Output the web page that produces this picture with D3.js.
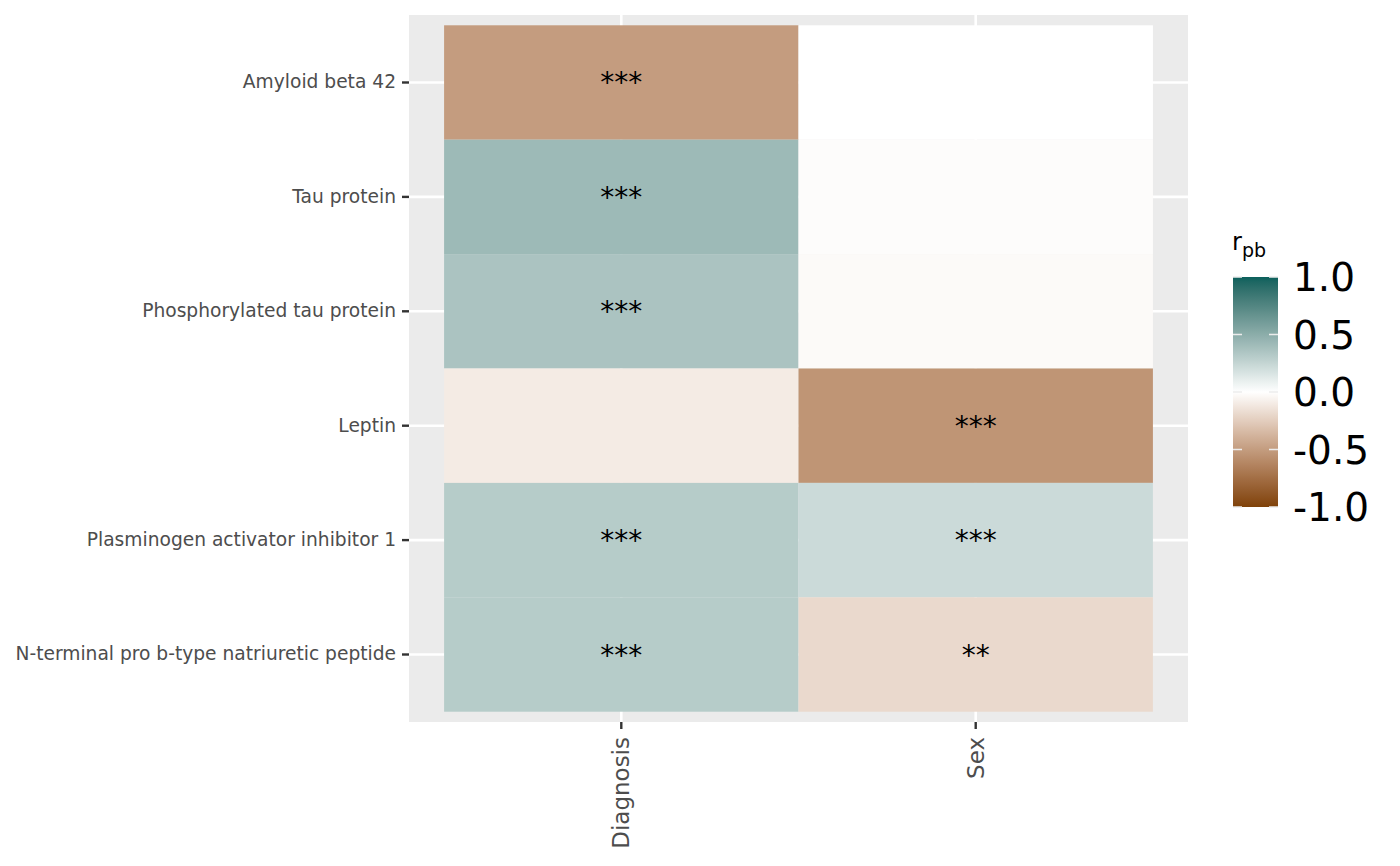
<!DOCTYPE html>
<html>
<head>
<meta charset="utf-8">
<script src="https://cdn.jsdelivr.net/npm/d3@7"></script>
<style>
  html, body { margin: 0; padding: 0; background: #ffffff; }
  svg { display: block; font-family: "DejaVu Sans", sans-serif; }
</style>
</head>
<body>
<svg id="chart" width="1400" height="866"></svg>
<script>
// ---- data ----
const proteins = [
  "Amyloid beta 42",
  "Tau protein",
  "Phosphorylated tau protein",
  "Leptin",
  "Plasminogen activator inhibitor 1",
  "N-terminal pro b-type natriuretic peptide"
];
const variables = ["Diagnosis", "Sex"];
const diagnosisR = [-0.50, 0.42, 0.36, -0.10, 0.31, 0.31];
const sexR       = [0.00, -0.015, -0.025, -0.54, 0.22, -0.19];
const diagnosisSig = ["***", "***", "***", "", "***", "***"];
const sexSig       = ["", "", "", "***", "***", "**"];
const legendTicks = [1.0, 0.5, 0.0, -0.5, -1.0];

const cells = [];
proteins.forEach((p, i) => {
  cells.push({ protein: p, variable: "Diagnosis", r: diagnosisR[i], sig: diagnosisSig[i] });
  cells.push({ protein: p, variable: "Sex", r: sexR[i], sig: sexSig[i] });
});

// ---- layout ----
const svg = d3.select("#chart");
const panel = { x0: 409, x1: 1188, y0: 15, y1: 722 };

const x = d3.scaleBand().domain(variables).range([panel.x0, panel.x1])
  .paddingInner(0).paddingOuter(0.099);
const y = d3.scaleBand().domain(proteins).range([panel.y0, panel.y1])
  .paddingInner(0).paddingOuter(0.09);

const color = d3.scaleLinear()
  .domain([-1, 0, 1])
  .range(["#7f4208", "#ffffff", "#0b605c"])
  .interpolate(d3.interpolateLab);

// panel background
svg.append("rect")
  .attr("x", panel.x0).attr("y", panel.y0)
  .attr("width", panel.x1 - panel.x0).attr("height", panel.y1 - panel.y0)
  .attr("fill", "#EBEBEB");

// grid lines
const grid = svg.append("g");
variables.forEach(v => {
  const cx = x(v) + x.bandwidth() / 2;
  grid.append("line").attr("x1", cx).attr("x2", cx)
    .attr("y1", panel.y0).attr("y2", panel.y1)
    .attr("stroke", "#ffffff").attr("stroke-width", 2.6);
});
proteins.forEach(p => {
  const cy = y(p) + y.bandwidth() / 2;
  grid.append("line").attr("x1", panel.x0).attr("x2", panel.x1)
    .attr("y1", cy).attr("y2", cy)
    .attr("stroke", "#ffffff").attr("stroke-width", 2.6);
});

// tiles
svg.append("g").selectAll("rect").data(cells).join("rect")
  .attr("x", d => x(d.variable))
  .attr("y", d => y(d.protein))
  .attr("width", x.bandwidth())
  .attr("height", y.bandwidth())
  .attr("fill", d => color(d.r));

// significance labels
svg.append("g").selectAll("text").data(cells.filter(d => d.sig)).join("text")
  .attr("x", d => x(d.variable) + x.bandwidth() / 2)
  .attr("y", d => y(d.protein) + y.bandwidth() / 2 + 10)
  .attr("text-anchor", "middle")
  .attr("font-size", 28)
  .attr("fill", "#000000")
  .text(d => d.sig);

// y axis
const yAxis = svg.append("g").attr("transform", `translate(${panel.x0},0)`)
  .call(d3.axisLeft(y).tickSize(7).tickPadding(6));
yAxis.select(".domain").remove();
yAxis.selectAll(".tick line").attr("stroke", "#333333").attr("stroke-width", 2.4);
yAxis.selectAll(".tick text")
  .attr("fill", "#4D4D4D").attr("font-size", 18.65)
  .attr("font-family", "DejaVu Sans");

// x axis
const xAxis = svg.append("g").attr("transform", `translate(0,${panel.y1})`)
  .call(d3.axisBottom(x).tickSize(7).tickPadding(6));
xAxis.select(".domain").remove();
xAxis.selectAll(".tick line").attr("stroke", "#333333").attr("stroke-width", 2.4);
xAxis.selectAll(".tick text")
  .attr("fill", "#4D4D4D").attr("font-size", 23)
  .attr("font-family", "DejaVu Sans")
  .attr("transform", "rotate(-90)")
  .attr("text-anchor", "end")
  .attr("x", -15).attr("y", 0).attr("dy", "0.35em");

// legend
const leg = { x: 1233, w: 45, top: 277, bottom: 507 };
const ly = d3.scaleLinear().domain([-1, 1]).range([leg.bottom, leg.top]);
const defs = svg.append("defs");
const grad = defs.append("linearGradient").attr("id", "rpbGrad")
  .attr("x1", 0).attr("x2", 0).attr("y1", 1).attr("y2", 0);
d3.range(0, 1.0001, 0.02).forEach(t => {
  grad.append("stop").attr("offset", t).attr("stop-color", color(-1 + 2 * t));
});
svg.append("rect").attr("x", leg.x).attr("y", leg.top)
  .attr("width", leg.w).attr("height", leg.bottom - leg.top)
  .attr("fill", "url(#rpbGrad)");
const lt = svg.append("g");
legendTicks.forEach(v => {
  const ty = ly(v);
  lt.append("line").attr("x1", leg.x).attr("x2", leg.x + 9)
    .attr("y1", ty).attr("y2", ty).attr("stroke", "#ececec").attr("stroke-width", 1.5);
  lt.append("line").attr("x1", leg.x + leg.w - 9).attr("x2", leg.x + leg.w)
    .attr("y1", ty).attr("y2", ty).attr("stroke", "#ececec").attr("stroke-width", 1.5);
  lt.append("text").attr("x", leg.x + leg.w + 15).attr("y", ty)
    .attr("dy", "0.36em").attr("font-size", 39).attr("fill", "#000000")
    .text(v.toFixed(1));
});
const title = svg.append("text").attr("x", 1232).attr("y", 250)
  .attr("font-size", 24).attr("fill", "#000000");
title.append("tspan").text("r");
title.append("tspan").attr("font-size", 19).attr("dy", 7).text("pb");
</script>
</body>
</html>
